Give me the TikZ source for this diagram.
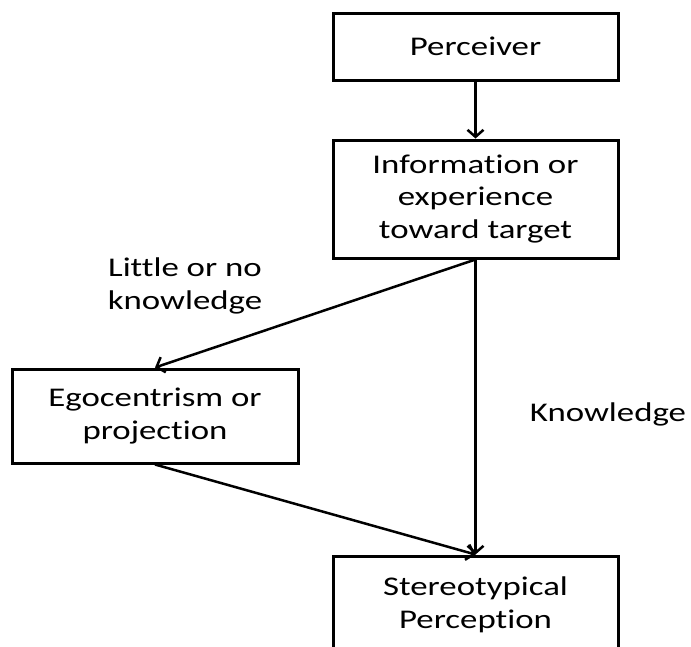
\documentclass[tikz,border=0pt]{standalone}
\usepackage{fontspec}
\setmainfont[FakeStretch=1.29,Ligatures=NoCommon]{Carlito}
\usetikzlibrary{arrows.meta}
\begin{document}
\begin{tikzpicture}[x=1pt,y=-1pt,
  txt/.style={align=center, inner sep=0pt, font=\fontsize{27}{32.5}\selectfont},
  box/.style={txt, draw, line width=3pt, minimum width=285pt},
  arr/.style={line width=2.5pt, -{Straight Barb[length=7pt,width=16pt]}}]
\useasboundingbox (0,0) rectangle (691,646);
\node[box, minimum height=67pt] (perc) at (475.5,46.5) {Perceiver};
\node[box, minimum height=118pt] (info) at (475.5,199) {Information or\\experience\\toward target};
\node[box, minimum width=286pt, minimum height=94pt] (ego) at (155,416) {Egocentrism or\\projection};
\node[box, minimum height=98pt] (stereo) at (475.5,605) {Stereotypical\\Perception};
\node[txt] (little) at (185,286) {Little or no\\knowledge};
\node[txt] (know) at (608,414) {Knowledge};
\draw[arr] (perc.south) -- (info.north);
\draw[arr] (info.south) -- (ego.north);
\draw[arr] (info.south) -- (stereo.north);
\draw[arr] (ego.south) -- (stereo.north);
\end{tikzpicture}
\end{document}
